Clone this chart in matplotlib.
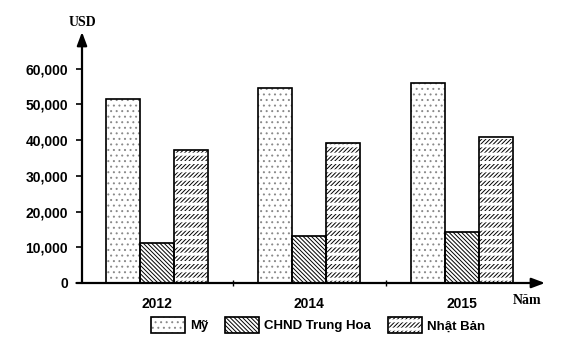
import numpy as np
import matplotlib.pyplot as plt
import matplotlib as mpl
from matplotlib.patches import Patch, Rectangle
from matplotlib.legend_handler import HandlerBase

mpl.rcParams.update({
    "font.family": "Liberation Sans",
    "font.weight": "bold",
    "hatch.linewidth": 0.7,
})

years = ["2012", "2014", "2015"]
usa = [51400, 54600, 56000]
china = [11200, 13100, 14300]
japan = [37200, 39200, 40900]
yticks = [0, 10000, 20000, 30000, 40000, 50000, 60000]
ytick_labels = ["0", "10,000", "20,000", "30,000", "40,000", "50,000", "60,000"]
series_names = ["Mỹ", "CHND Trung Hoa", "Nhật Bản"]

DOTS = "..."
BACK = "\\" * 8
FWD = "/" * 8

W, H = 562, 349
fig = plt.figure(figsize=(W / 100, H / 100), dpi=100)
ax = fig.add_axes([82 / W, (H - 283) / H, (545 - 82) / W, (283 - 32) / H])

x = np.arange(len(years))
bw = 0.223


def set_hlw(p, hlw):
    if hasattr(p, "set_hatch_linewidth"):
        p.set_hatch_linewidth(hlw)


def hatched(xs, vals, hatch, color, hlw, zorder):
    bars = ax.bar(xs, vals, bw, fill=False, hatch=hatch, edgecolor=color,
                  linewidth=0.3, zorder=zorder)
    for b in bars:
        set_hlw(b, hlw)
    return bars


def outline(xs, vals):
    ax.bar(xs, vals, bw, fill=False, edgecolor="black", linewidth=1.2, zorder=6)


# white backgrounds
for off, vals in [(-bw, usa), (0, china), (bw, japan)]:
    ax.bar(x + off, vals, bw, color="white", linewidth=0, zorder=1)

hatched(x - bw, usa, DOTS, "#8a8a8a", 0.7, 2)
hatched(x, china, BACK, "black", 0.7, 2)
hatched(x + bw, japan, FWD, "black", 0.7, 2)
# white horizontal gaps break the slashes into rows
hatched(x + bw, japan, "--", "white", 2.2, 3)

outline(x - bw, usa)
outline(x, china)
outline(x + bw, japan)

ax.set_xlim(-0.49, 2.545)
ax.set_ylim(0, 70300)

for s in ax.spines.values():
    s.set_visible(False)

# axes drawn as arrows
ax.annotate("", xy=(0, 1.0), xytext=(0, 0), xycoords="axes fraction",
            arrowprops=dict(arrowstyle="-|>,head_length=0.8,head_width=0.3",
                            color="black", lw=1.6, shrinkA=0, shrinkB=0))
ax.annotate("", xy=(1.0, 0), xytext=(-0.012, 0), xycoords="axes fraction",
            arrowprops=dict(arrowstyle="-|>,head_length=0.8,head_width=0.3",
                            color="black", lw=1.6, shrinkA=0, shrinkB=0))

ax.set_yticks(yticks)
ax.set_yticklabels(ytick_labels, fontsize=10, fontweight="bold")
ax.tick_params(axis="y", length=4, width=1.2, pad=6)

ax.set_xticks(x)
ax.set_xticklabels(years, fontsize=10, fontweight="bold")
ax.tick_params(axis="x", which="major", length=0, pad=10)
ax.set_xticks([0.5, 1.5], minor=True)
ax.tick_params(axis="x", which="minor", length=4, width=1.0, direction="inout")

fig.text(82 / W, 1 - 22 / H, "USD", family="Liberation Serif", fontsize=10,
         fontweight="bold", ha="center", va="center")
fig.text(527 / W, 1 - 300 / H, "Năm", family="Liberation Serif", fontsize=10,
         fontweight="bold", ha="center", va="center")


class HatchBox(HandlerBase):
    """Legend key made of stacked hatch layers plus a black frame."""

    def __init__(self, layers):
        super().__init__()
        self.layers = layers

    def create_artists(self, legend, orig_handle, xdescent, ydescent,
                       width, height, fontsize, trans):
        arts = [Rectangle((-xdescent, -ydescent), width, height,
                          facecolor="white", linewidth=0, transform=trans)]
        for hatch, color, hlw in self.layers:
            r = Rectangle((-xdescent, -ydescent), width, height, fill=False,
                          hatch=hatch, edgecolor=color, linewidth=0.3,
                          transform=trans)
            set_hlw(r, hlw)
            arts.append(r)
        arts.append(Rectangle((-xdescent, -ydescent), width, height,
                              fill=False, edgecolor="black", linewidth=1.2,
                              transform=trans))
        return arts


handles = [Patch(), Patch(), Patch()]
handler_map = {
    handles[0]: HatchBox([(DOTS, "#8a8a8a", 0.7)]),
    handles[1]: HatchBox([(BACK, "black", 0.7)]),
    handles[2]: HatchBox([(FWD, "black", 0.7), ("--", "white", 2.2)]),
}
fig.legend(handles, series_names, loc="center", ncol=3,
           bbox_to_anchor=(318 / W, 1 - 325 / H), frameon=False,
           handlelength=2.6, handleheight=1.6, handletextpad=0.35,
           columnspacing=1.3, handler_map=handler_map,
           prop={"family": "Liberation Sans", "weight": "bold", "size": 9.5})

fig.savefig("out.png", dpi=100)
